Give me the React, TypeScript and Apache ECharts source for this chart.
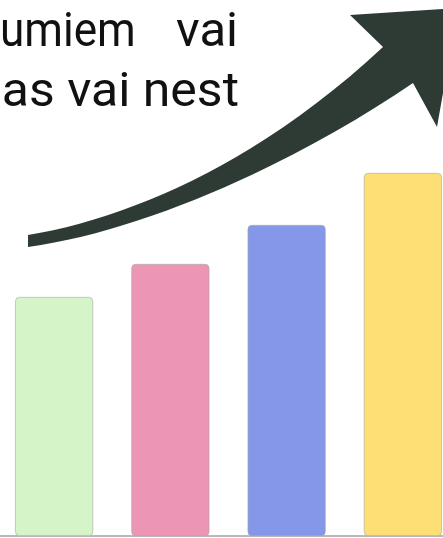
import React, { useEffect, useRef } from "react";
import * as echarts from "echarts";

const categories = ["A", "B", "C", "D"];
const values = [239, 272, 311, 363];
const barColors = ["#d5f4c8", "#ed95b4", "#8497e8", "#fddf76"];
const line1Left = "umiem";
const line1Right = "vai";
const line2 = "as vai nest";

const OFFSET = 4;
const ARROW_D =
  "M 28 235 C 130 218 260 162 383 47 L 350 15 L 458 8 L 437 127 L 413 83 C 300 160 150 230 28 247 Z";

let registered = false;
function ensureShape() {
  if (registered) return;
  echarts.graphic.registerShape("arrowShape", echarts.graphic.extendPath(ARROW_D as any, {}) as any);
  registered = true;
}

const FONT = '49px Roboto';

export default function App() {
  const ref = useRef<HTMLDivElement>(null);
  useEffect(() => {
    ensureShape();
    const chart = echarts.init(ref.current!, undefined, { renderer: "svg" });
    chart.setOption({
      animation: false,
      grid: { left: 0, right: 0, top: 36, bottom: 2, containLabel: false },
      xAxis: {
        type: "category",
        data: categories,
        axisLine: { show: true, lineStyle: { color: "#a3a3a3", width: 1.5 } },
        axisTick: { show: false },
        axisLabel: { show: false },
      },
      yAxis: { type: "value", min: 0, max: 500, show: false, splitLine: { show: false } },
      series: [
        {
          type: "bar",
          barWidth: 78,
          data: values.map((v, i) => ({
            value: v,
            itemStyle: {
              color: barColors[i],
              borderColor: "#a8a8a8",
              borderWidth: 0.6,
              borderRadius: 4,
            },
          })),
        },
      ],
      graphic: [
        {
          type: "group",
          x: OFFSET,
          y: 0,
          children: [
            {
              type: "arrowShape",
              x: 0,
              y: 0,
              style: { fill: "#2e3b35" },
              z: 10,
            },
            {
              type: "text",
              x: 0,
              y: 29,
              scaleX: 0.9,
              style: {
                text: line1Left,
                fill: "#111",
                font: FONT,
                lineHeight: 49,
                textAlign: "left",
                textVerticalAlign: "middle",
              },
            },
            {
              type: "text",
              x: 238,
              y: 29,
              style: {
                text: line1Right,
                fill: "#111",
                font: FONT,
                lineHeight: 49,
                textAlign: "right",
                textVerticalAlign: "middle",
              },
            },
            {
              type: "text",
              x: 239,
              y: 89,
              scaleX: 1.02,
              style: {
                text: line2,
                fill: "#111",
                font: FONT,
                lineHeight: 49,
                textAlign: "right",
                textVerticalAlign: "middle",
              },
            },
          ],
        },
      ],
    });
    return () => chart.dispose();
  }, []);
  return (
    <div
      ref={ref}
      style={{ width: 443 + 2 * 11, height: 538, position: "fixed", left: -OFFSET, top: 0 }}
    />
  );
}
